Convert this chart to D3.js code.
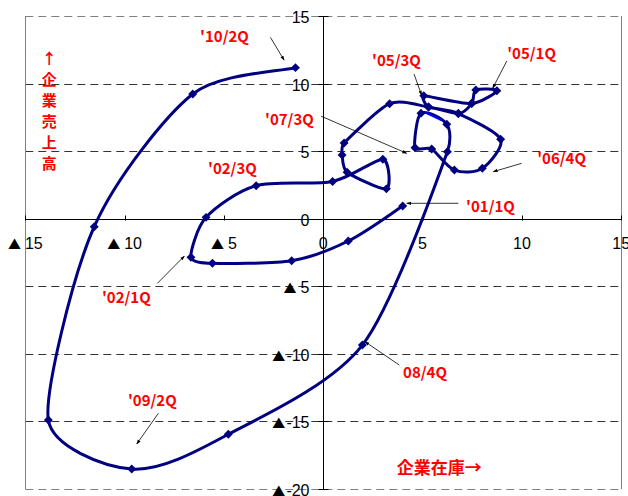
<!DOCTYPE html>
<html>
<head>
<meta charset="utf-8">
<script src="https://cdn.jsdelivr.net/npm/d3@7"></script>
<style>
  body { margin: 0; background: #fff; }
  svg { display: block; }
</style>
</head>
<body>
<div id="chart"></div>
<script>
// quarterly path: x = corporate inventories, y = corporate sales (YoY %)
var quarters = ["'01/1Q","01/2Q","01/3Q","01/4Q","'02/1Q","02/2Q","'02/3Q","02/4Q",
  "03/1Q","03/2Q","03/3Q","03/4Q","04/1Q","04/2Q","04/3Q","04/4Q","a","b","'05/1Q","c",
  "'05/3Q","05/4Q","06/1Q","06/2Q","'06/4Q","07/1Q","07/2Q","'07/3Q","07/4Q","08/1Q","08/2Q",
  "08/4Q","09/1Q","'09/2Q","09/3Q","09/4Q","10/1Q","'10/2Q"];
var inventory = [4.00, 1.26, -1.59, -5.58, -6.66, -5.90, -3.38, 0.47,
  3.00, 3.18, 1.20, 0.95, 1.05, 3.34, 5.30, 6.80, 7.48, 7.68, 8.74, 7.47,
  5.06, 5.30, 6.80, 8.93, 8.01, 6.60, 5.46, 4.62, 4.92, 6.22, 6.25,
  1.97, -4.78, -9.64, -13.84, -11.53, -6.57, -1.40];
var sales = [0.94, -1.65, -3.11, -3.30, -2.86, 0.10, 2.44, 2.75,
  4.40, 2.21, 3.44, 4.71, 5.60, 8.51, 8.27, 7.78, 8.54, 9.52, 9.47, 8.52,
  9.10, 8.27, 7.78, 5.88, 3.73, 3.60, 5.16, 5.25, 7.80, 6.99, 4.96,
  -9.35, -15.95, -18.52, -14.90, -0.59, 9.23, 11.18];

var xTicks = [-15, -10, -5, 0, 5, 10, 15];
var xTickLabels = ["▲ 15", "▲ 10", "▲ 5", "0", "5", "10", "15"];
var yTicks = [15, 10, 5, 0, -5, -10, -15, -20];
var yTickLabels = ["15", "10", "5", "0", "▲ 5", "▲-10", "▲-15", "▲-20"];

// callouts: text anchor (data units) and arrow from -> to
var callouts = [
  { t: "'10/2Q", x: -6.20, y: 13.08, ax: [-2.66, 13.42], bx: [-1.97, 11.73] },
  { t: "'07/3Q", x: -2.93, y: 6.93, ax: [-0.11, 7.59], bx: [4.20, 4.84] },
  { t: "'02/3Q", x: -5.80, y: 3.31 },
  { t: "'05/3Q", x: 2.46, y: 11.30, ax: [4.57, 10.71], bx: [4.95, 9.15] },
  { t: "'05/1Q", x: 9.26, y: 11.82, ax: [9.24, 11.67], bx: [8.53, 9.65] },
  { t: "'06/4Q", x: 10.77, y: 4.05, ax: [9.99, 4.10], bx: [8.56, 3.48] },
  { t: "'01/1Q", x: 7.19, y: 0.50, ax: [6.80, 1.14], bx: [4.20, 1.14] },
  { t: "'02/1Q", x: -11.14, y: -6.24, ax: [-8.35, -4.78], bx: [-6.99, -2.76] },
  { t: "'09/2Q", x: -9.83, y: -13.86, ax: [-8.30, -14.40], bx: [-9.39, -16.67] },
  { t: "08/4Q", x: 4.02, y: -11.79, ax: [3.83, -10.83], bx: [2.10, -9.10] }
];

var width = 628, height = 496;
var x = d3.scaleLinear().domain([-15, 15]).range([25.3, 621.2]);
var y = d3.scaleLinear().domain([-20, 15]).range([489, 16]);

var svg = d3.select("#chart").append("svg")
  .attr("width", width).attr("height", height);

svg.append("defs").append("marker")
  .attr("id", "arr").attr("viewBox", "0 0 10 10")
  .attr("refX", 9).attr("refY", 5)
  .attr("markerWidth", 6).attr("markerHeight", 6)
  .attr("orient", "auto")
  .append("path").attr("d", "M0,1.5L10,5L0,8.5Z").attr("fill", "#000");

// horizontal dashed gridlines
svg.append("g").selectAll("line")
  .data(yTicks.filter(d => d !== 0))
  .enter().append("line")
  .attr("x1", x(-15)).attr("x2", x(15))
  .attr("y1", d => Math.round(y(d)) + 0.5).attr("y2", d => Math.round(y(d)) + 0.5)
  .attr("stroke", d => (d === 15 || d === -20) ? "#808080" : "#333")
  .attr("stroke-dasharray", "8,5");

// left / right frame
svg.append("line").attr("x1", Math.round(x(-15)) + 0.5).attr("x2", Math.round(x(-15)) + 0.5)
  .attr("y1", y(15)).attr("y2", y(-20)).attr("stroke", "#808080");
svg.append("line").attr("x1", Math.round(x(15)) + 0.5).attr("x2", Math.round(x(15)) + 0.5)
  .attr("y1", y(15)).attr("y2", y(-20)).attr("stroke", "#808080");

// axes through zero
var x0 = Math.round(x(0)) + 0.5, y0 = Math.round(y(0)) + 0.5;
svg.append("line").attr("x1", x(-15)).attr("x2", x(15))
  .attr("y1", y0).attr("y2", y0).attr("stroke", "#000");
svg.append("line").attr("x1", x0).attr("x2", x0)
  .attr("y1", y(15)).attr("y2", y(-20)).attr("stroke", "#000");

svg.append("g").selectAll("line").data(xTicks)
  .enter().append("line")
  .attr("x1", d => Math.round(x(d)) + 0.5).attr("x2", d => Math.round(x(d)) + 0.5)
  .attr("y1", y0 - 4).attr("y2", y0 + 1).attr("stroke", "#000");
svg.append("g").selectAll("line").data(yTicks)
  .enter().append("line")
  .attr("x1", x0 - 5).attr("x2", x0 + 5)
  .attr("y1", d => Math.round(y(d)) + 0.5).attr("y2", d => Math.round(y(d)) + 0.5)
  .attr("stroke", "#000");

// tick labels; the ▲ (negative sign) gets a bigger CJK glyph
var tickFont = "'Liberation Sans Narrow', 'Liberation Sans', Arial, sans-serif";
function tickText(sel, label) {
  if (label.charAt(0) === "▲") {
    sel.append("tspan").attr("font-family", "'Noto Sans CJK JP'").attr("font-size", 13)
      .text("▲");
    sel.append("tspan").attr("dx", label.charAt(1) === " " ? 4 : 1).text(label.slice(label.charAt(1) === " " ? 2 : 1));
  } else {
    sel.text(label);
  }
}
svg.append("g").selectAll("text").data(xTicks)
  .enter().append("text")
  .attr("x", d => x(d)).attr("y", y(0) + 30)
  .attr("text-anchor", "middle")
  .attr("font-family", tickFont).attr("font-size", 16)
  .each(function (d, i) { tickText(d3.select(this), xTickLabels[i]); });
svg.append("g").selectAll("text").data(yTicks)
  .enter().append("text")
  .attr("x", x0 - 14).attr("y", d => y(d) + 7)
  .attr("text-anchor", "end")
  .attr("font-family", tickFont).attr("font-size", 16)
  .each(function (d, i) { tickText(d3.select(this), yTickLabels[i]); });

// smoothed line: bezier with catmull-rom tangents, arms shortened where
// neighbouring segments are of very different length (sharper corners)
function smoothPath(p) {
  var n = p.length, ctx = d3.path();
  function dist(a, b) { return Math.hypot(b[0] - a[0], b[1] - a[1]); }
  function tangent(i) {
    var a = p[Math.max(i - 1, 0)], b = p[Math.min(i + 1, n - 1)];
    var tx = b[0] - a[0], ty = b[1] - a[1], L = Math.hypot(tx, ty) || 1;
    var d1 = i > 0 ? dist(p[i - 1], p[i]) : dist(p[i], p[i + 1]);
    var d2 = i < n - 1 ? dist(p[i], p[i + 1]) : d1;
    var s = 2 * Math.min(d1, d2) / (d1 + d2);
    var arm = L / 6 * s;
    return [tx / L * arm, ty / L * arm];
  }
  ctx.moveTo(p[0][0], p[0][1]);
  for (var i = 0; i < n - 1; i++) {
    var t0 = tangent(i), t1 = tangent(i + 1);
    ctx.bezierCurveTo(p[i][0] + t0[0], p[i][1] + t0[1],
      p[i + 1][0] - t1[0], p[i + 1][1] - t1[1], p[i + 1][0], p[i + 1][1]);
  }
  return ctx.toString();
}

var pts = inventory.map((v, i) => [x(v), y(sales[i])]);
svg.append("path")
  .attr("d", smoothPath(pts))
  .attr("fill", "none").attr("stroke", "#000080").attr("stroke-width", 3);

// highlighted segment 07/4Q -> 08/1Q
svg.append("line")
  .attr("x1", x(inventory[28]) + 4).attr("y1", y(sales[28]) - 1)
  .attr("x2", x(inventory[29]) - 5).attr("y2", y(sales[29]) - 4)
  .attr("stroke", "#0000ff").attr("stroke-width", 2);

svg.append("g").selectAll("path").data(pts)
  .enter().append("path")
  .attr("d", d3.symbol(d3.symbolSquare, 40))
  .attr("transform", d => "translate(" + d[0] + "," + d[1] + ") rotate(45)")
  .attr("fill", "#000080");

// callouts
var lblFont = "'Noto Sans CJK JP', 'Liberation Sans', sans-serif";
var cg = svg.append("g");
callouts.forEach(function (c) {
  if (c.ax) {
    cg.append("line")
      .attr("x1", x(c.ax[0])).attr("y1", y(c.ax[1]))
      .attr("x2", x(c.bx[0])).attr("y2", y(c.bx[1]))
      .attr("stroke", "#000").attr("stroke-width", 0.8)
      .attr("marker-end", "url(#arr)");
  }
  cg.append("text")
    .attr("x", x(c.x)).attr("y", y(c.y))
    .attr("font-family", lblFont).attr("font-weight", "bold").attr("font-size", 15)
    .attr("fill", "#ff0000")
    .text(c.t);
});

// axis titles
svg.append("text")
  .attr("x", x(3.7)).attr("y", y(-18.9))
  .attr("font-family", lblFont).attr("font-weight", "bold").attr("font-size", 17)
  .attr("fill", "#ff0000")
  .text("企業在庫→");

var vchars = ["↑", "企", "業", "売", "上", "高"];
svg.append("g").selectAll("text").data(vchars)
  .enter().append("text")
  .attr("x", x(-13.8)).attr("y", (d, i) => y(11.7) + 3 + i * 21)
  .attr("text-anchor", "middle")
  .attr("font-family", lblFont).attr("font-weight", "bold").attr("font-size", 15)
  .attr("fill", "#ff0000")
  .text(d => d);
</script>
</body>
</html>
